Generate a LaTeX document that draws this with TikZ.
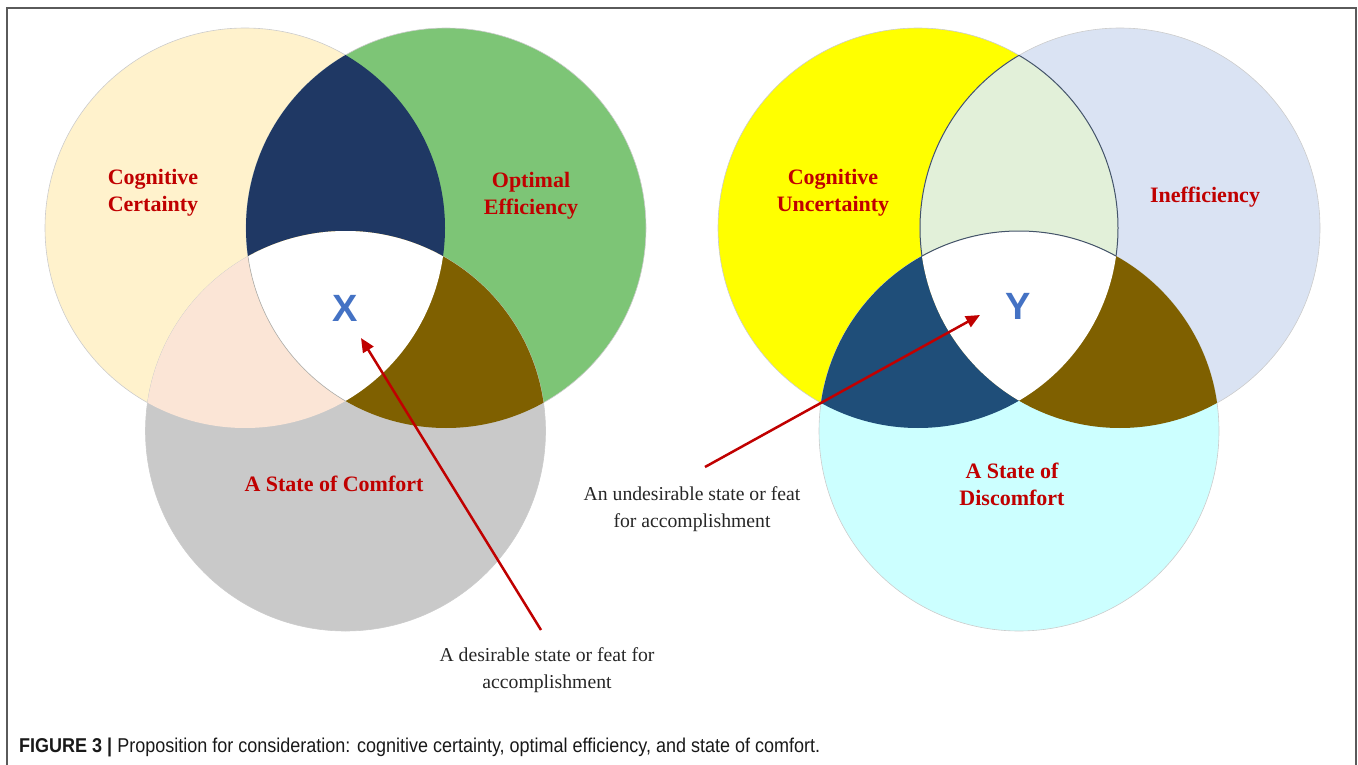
\documentclass[tikz,border=0pt]{standalone}
\usepackage{fontspec}
\setmainfont{Liberation Serif}
\newfontfamily\capfont[FakeStretch=0.9]{Liberation Sans}
\newfontfamily\xyfont{Liberation Sans}
\usetikzlibrary{arrows.meta}
\definecolor{ccert}{HTML}{FFF2CC}
\definecolor{copt}{HTML}{7DC576}
\definecolor{ccomf}{HTML}{C9C9C9}
\definecolor{cnavy}{HTML}{1F3864}
\definecolor{cpink}{HTML}{FBE5D6}
\definecolor{cbrown}{HTML}{7F6000}
\definecolor{cyel}{HTML}{FFFF00}
\definecolor{clav}{HTML}{DAE3F3}
\definecolor{ccyan}{HTML}{CCFFFF}
\definecolor{cmint}{HTML}{E2F0D9}
\definecolor{cblue}{HTML}{1F4E79}
\definecolor{labred}{HTML}{C00000}
\definecolor{arrred}{HTML}{C00000}
\definecolor{xyblue}{HTML}{4472C4}
\definecolor{desctext}{HTML}{262626}
\definecolor{framecol}{HTML}{5A5A5A}
\definecolor{lensline}{HTML}{44546A}
\def\R{200pt}
\begin{document}
\begin{tikzpicture}[x=1pt,y=-1pt,
  circ/.style={draw=gray!40, line width=0.6pt},
  venlabel/.style={font=\fontsize{22}{27}\selectfont\bfseries, text=labred, align=center, inner sep=0pt},
  desc/.style={font=\fontsize{19.7}{27}\selectfont, text=desctext, align=center, inner sep=0pt},
  xylab/.style={font=\xyfont\fontsize{38}{40}\selectfont\bfseries, text=xyblue, inner sep=0pt},
  ptr/.style={draw=arrred, line width=2.5pt, -{Triangle[length=14pt,width=12pt]}},
  lens/.style={draw=lensline, line width=1pt}
]
\useasboundingbox (0,0) rectangle (1358,765);
% frame
\draw[framecol, line width=1.5pt] (7,765) -- (7,8) -- (1356,8) -- (1356,765);

% centres
\coordinate (cA) at (245,228);
\coordinate (cB) at (446,228);
\coordinate (cC) at (345.5,431);
\coordinate (cD) at (918,228);
\coordinate (cE) at (1120,228);
\coordinate (cF) at (1019,431);

% ---- left Venn
\filldraw[circ, fill=ccert] (cA) circle[radius=\R];
\filldraw[circ, fill=copt] (cB) circle[radius=\R];
\filldraw[circ, fill=ccomf] (cC) circle[radius=\R];
\begin{scope}
  \clip (cA) circle[radius=\R];
  \fill[cnavy] (cB) circle[radius=\R];
  \fill[cpink] (cC) circle[radius=\R];
\end{scope}
\begin{scope}
  \clip (cB) circle[radius=\R];
  \fill[cbrown] (cC) circle[radius=\R];
\end{scope}
\begin{scope}
  \clip (cA) circle[radius=\R];
  \clip (cB) circle[radius=\R];
  \fill[white] (cC) circle[radius=\R];
\end{scope}
\begin{scope}
  \clip (cA) circle[radius=\R];
  \clip (cC) circle[radius=\R];
  \draw[gray!60, line width=0.6pt] (cB) circle[radius=\R];
\end{scope}

% ---- right Venn
\filldraw[circ, fill=cyel] (cD) circle[radius=\R];
\filldraw[circ, fill=clav] (cE) circle[radius=\R];
\filldraw[circ, fill=ccyan] (cF) circle[radius=\R];
\begin{scope}
  \clip (cD) circle[radius=\R];
  \fill[cmint] (cE) circle[radius=\R];
  \draw[lens] (cE) circle[radius=\R];
\end{scope}
\begin{scope}
  \clip (cE) circle[radius=\R];
  \draw[lens] (cD) circle[radius=\R];
\end{scope}
\begin{scope}
  \clip (cD) circle[radius=\R];
  \fill[cblue] (cF) circle[radius=\R];
\end{scope}
\begin{scope}
  \clip (cE) circle[radius=\R];
  \fill[cbrown] (cF) circle[radius=\R];
\end{scope}
\begin{scope}
  \clip (cD) circle[radius=\R];
  \clip (cE) circle[radius=\R];
  \fill[white] (cF) circle[radius=\R];
  \draw[lens] (cF) circle[radius=\R];
\end{scope}

% ---- labels
\node[venlabel] (cert) at (153,193) {Cognitive\\Certainty};
\node[venlabel] (opt) at (531,196) {Optimal\\Efficiency};
\node[venlabel] (comf) at (334,484) {A State of Comfort};
\node[xylab] (X) at (345,308) {X};
\node[venlabel] (uncert) at (833,193) {Cognitive\\Uncertainty};
\node[venlabel] (ineff) at (1205,197) {Inefficiency};
\node[venlabel] (discomf) at (1012,484) {A State of\\Discomfort};
\node[xylab] (Y) at (1018,306) {Y};

\node[desc] (descL) at (547,670) {A desirable state or feat for\\accomplishment};
\node[desc] (descR) at (692,509) {An undesirable state or feat\\for accomplishment};

% ---- arrows
\coordinate (tailL) at (541,630);
\coordinate (tipL) at (361,338);
\coordinate (tailR) at (705,467);
\coordinate (tipR) at (980,315);
\draw[ptr] (tailL) -- (tipL);
\draw[ptr] (tailR) -- (tipR);

% ---- caption
\node[anchor=west, inner sep=0pt, font=\capfont\fontsize{20}{24}\selectfont, text=black!90] (cap) at (19,747)
  {\textbf{FIGURE 3 |} Proposition for consideration: cognitive certainty, optimal efficiency, and state of comfort.};
\end{tikzpicture}
\end{document}
